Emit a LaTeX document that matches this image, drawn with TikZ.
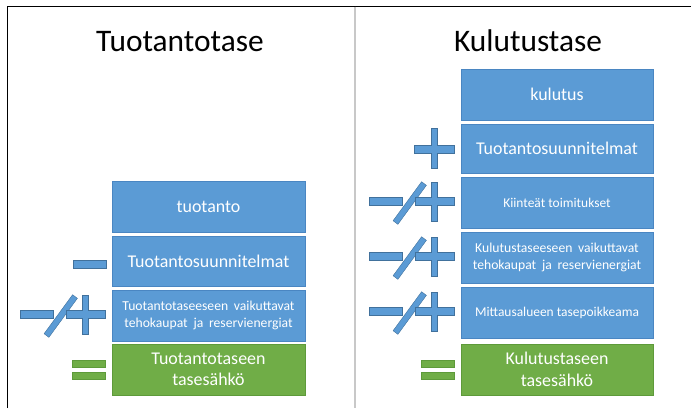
\documentclass[tikz,border=0pt]{standalone}
\usepackage{fontspec}
\setmainfont{Carlito}
\definecolor{boxblue}{HTML}{5B9BD5}
\definecolor{boxedge}{HTML}{4A86C2}
\definecolor{boxgreen}{HTML}{70AD47}
\definecolor{greenedge}{HTML}{5E9A3A}
\definecolor{symedge}{HTML}{41719C}
\definecolor{divider}{HTML}{C8C8C8}
\newcommand\mywidesp{\fontsize{13.7}{17}\selectfont\spaceskip=0.42em plus 0.1em\relax}
\tikzset{
  bluebox/.style={rectangle, fill=boxblue, draw=boxedge, line width=0.8bp, text=white, align=center, inner sep=0pt, minimum width=193bp},
  greenbox/.style={rectangle, fill=boxgreen, draw=greenedge, line width=0.8bp, text=white, align=center, inner sep=0pt, minimum width=193bp},
  bigtxt/.style={font=\fontsize{18}{21.5}\selectfont},
  smalltxt/.style={font=\fontsize{13.5}{17}\selectfont},
  twoline/.style={font=\mywidesp},
  symb/.style={fill=boxblue, draw=symedge, line width=0.4bp},
  symg/.style={fill=boxgreen, draw=greenedge, line width=0.4bp},
  titletxt/.style={font=\fontsize{31.5}{36}\selectfont, anchor=base, inner sep=0pt}
}
\newcommand\mysymminus[2]{\filldraw[symb,shift={(#1,#2)}] (-39,-1) rectangle (-6,7);}
\newcommand\mysymplus[2]{\filldraw[symb,shift={(#1,#2)}]
  (-47,-3.5) -- (-30,-3.5) -- (-30,-20.5) -- (-24,-20.5) -- (-24,-3.5) -- (-7,-3.5)
  -- (-7,4.5) -- (-24,4.5) -- (-24,19.5) -- (-30,19.5) -- (-30,4.5) -- (-47,4.5) -- cycle;}
\newcommand\mysympm[2]{%
  \filldraw[symb,shift={(#1,#2)}] (-92,-5) rectangle (-58.5,3);
  \filldraw[symb,shift={(#1,#2)}] (-67.9,18.2) -- (-39.4,-20.8) -- (-34.6,-17.2) -- (-63.1,21.8) -- cycle;
  \filldraw[symb,shift={(#1,#2)}]
  (-45.5,-5) -- (-29.5,-5) -- (-29.5,-20.5) -- (-23.5,-20.5) -- (-23.5,-5) -- (-6.5,-5)
  -- (-6.5,3) -- (-23.5,3) -- (-23.5,19) -- (-29.5,19) -- (-29.5,3) -- (-45.5,3) -- cycle;}
\newcommand\mysymeq[2]{%
  \filldraw[symg,shift={(#1,#2)}] (-39.5,-9.5) rectangle (-6.5,-2.5);
  \filldraw[symg,shift={(#1,#2)}] (-39.5,2.5) rectangle (-6.5,9.5);}
\begin{document}
\begin{tikzpicture}[x=1bp,y=-1bp]
\useasboundingbox (0,0) rectangle (691,408);
% frame
\coordinate (ftop) at (7.5,6.5);
\coordinate (fright) at (691,6.5);
\coordinate (fbot) at (7.5,408);
\draw[black, line width=1.5bp] (fbot) -- (ftop) -- (fright);
\coordinate (dtop) at (354.5,6.5);
\coordinate (dbot) at (354.5,408);
\draw[divider, line width=2bp] (dtop) -- (dbot);
% titles
\node[titletxt] (t1) at (180,51.7) {Tuotantotase};
\node[titletxt] (t2) at (528,51.7) {Kulutustase};
% left column
\node[bluebox, bigtxt, minimum height=51bp] (l1) at (208.5,206.5) {tuotanto};
\node[bluebox, bigtxt, minimum height=50bp] (l2) at (208.5,261) {Tuotantosuunnitelmat};
\node[bluebox, twoline, minimum height=51bp] (l3) at (208.5,315.5) {Tuotantotaseeseen vaikuttavat\\tehokaupat ja reservienergiat};
\node[greenbox, bigtxt, minimum height=51bp] (l4) at (208.5,369.5) {Tuotantotaseen\\tasesähkö};
\mysymminus{112}{261}
\mysympm{112}{315.5}
\mysymeq{112}{369.5}
% right column
\node[bluebox, bigtxt, minimum width=192bp, minimum height=51bp] (r1) at (557,94.5) {kulutus};
\node[bluebox, bigtxt, minimum width=192bp, minimum height=49bp] (r2) at (557,148.5) {Tuotantosuunnitelmat};
\node[bluebox, smalltxt, minimum width=192bp, minimum height=51bp] (r3) at (557,202.5) {Kiinteät toimitukset};
\node[bluebox, twoline, minimum width=192bp, minimum height=51bp] (r4) at (557,257.5) {Kulutustaseeseen vaikuttavat\\tehokaupat ja reservienergiat};
\node[bluebox, smalltxt, minimum width=192bp, minimum height=51bp] (r5) at (557,312.5) {Mittausalueen tasepoikkeama};
\node[greenbox, bigtxt, minimum width=192bp, minimum height=51bp] (r6) at (557,369.5) {Kulutustaseen\\tasesähkö};
\mysymplus{461}{148.5}
\mysympm{461}{202.5}
\mysympm{461}{257.5}
\mysympm{461}{312.5}
\mysymeq{461}{369.5}
\end{tikzpicture}
\end{document}
